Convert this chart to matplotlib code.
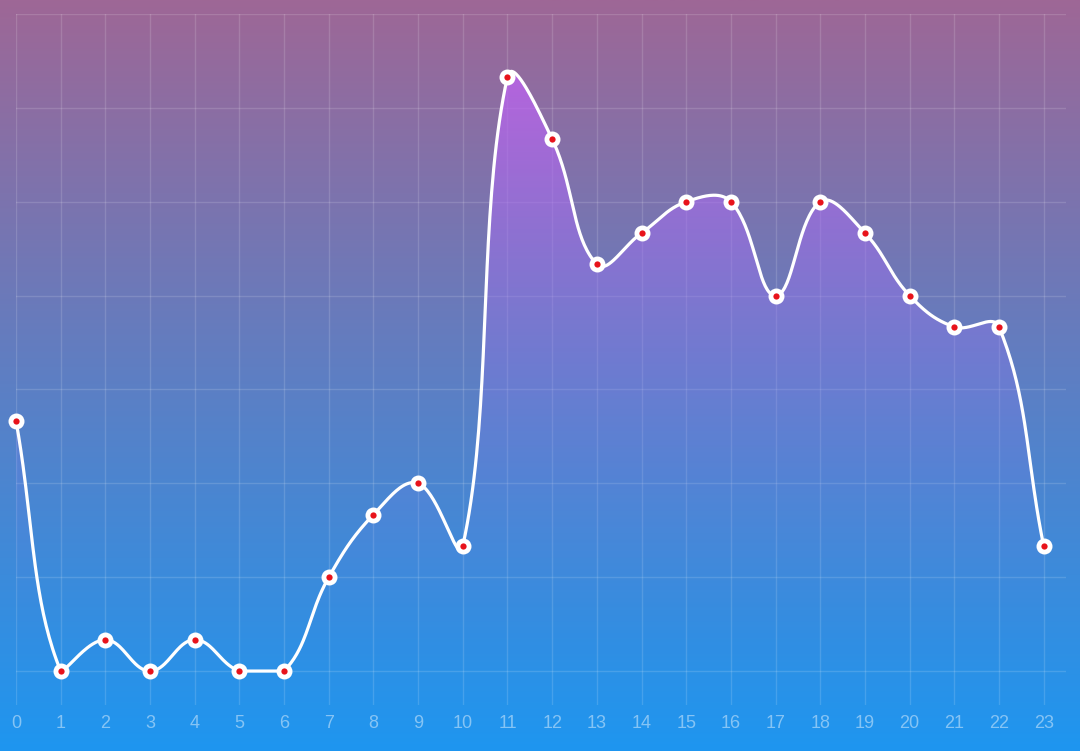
import numpy as np
import matplotlib.pyplot as plt
from matplotlib.path import Path
from matplotlib.patches import PathPatch

hours = list(range(24))
values = [8, 0, 1, 0, 1, 0, 0, 3, 5, 6, 4, 19, 17, 13, 14, 15, 15, 12, 15, 14, 12, 11, 11, 4]
y_ticks = [0, 3, 6, 9, 12, 15, 18, 21]
tension = 0.4

W, H = 1080, 751
fig = plt.figure(figsize=(W / 100, H / 100), dpi=100)

# background gradient (purple top -> blue bottom)
bg = fig.add_axes([0, 0, 1, 1], zorder=0)
top_c = np.array([158, 103, 150]) / 255
bot_c = np.array([30, 150, 240]) / 255
g = np.linspace(0, 1, 256)[:, None]
bg_img = top_c[None, :] * (1 - g) + bot_c[None, :] * g
bg.imshow(bg_img[:, None, :], aspect='auto', extent=[0, 1, 0, 1])
bg.set_axis_off()

ax = fig.add_axes([16 / W, 46 / H, 1050 / W, 691 / H], zorder=1)
ax.patch.set_alpha(0)
ax.set_xlim(0, 23.5)
ax.set_ylim(-1.085, 21)
for s in ax.spines.values():
    s.set_visible(False)

# grid
for v in y_ticks:
    ax.axhline(v, color='white', alpha=0.14, lw=1, zorder=1)
for h in hours:
    ax.axvline(h, color='white', alpha=0.14, lw=1, zorder=1)

ax.set_yticks([])
ax.set_xticks(hours)
ax.set_xticklabels([str(h) for h in hours], fontsize=13, family='Liberation Sans',
                   color=(1, 1, 1, 0.45))
ax.tick_params(axis='x', length=0, pad=7)

# chart.js style bezier spline in display coordinates, capped to chart area
pts = ax.transData.transform(np.column_stack([hours, values]))
lo = ax.transData.transform([[0, 0]])[0]
hi = ax.transData.transform([[23.5, 21]])[0]
n = len(pts)
cp_prev = np.zeros_like(pts)
cp_next = np.zeros_like(pts)
for i in range(n):
    p0 = pts[max(i - 1, 0)]
    p1 = pts[i]
    p2 = pts[min(i + 1, n - 1)]
    d01 = np.hypot(*(p1 - p0))
    d12 = np.hypot(*(p2 - p1))
    tot = d01 + d12
    s01 = d01 / tot if tot else 0
    s12 = d12 / tot if tot else 0
    cp_prev[i] = p1 - tension * s01 * (p2 - p0)
    cp_next[i] = p1 + tension * s12 * (p2 - p0)
cp_prev[:, 1] = np.clip(cp_prev[:, 1], lo[1], hi[1])
cp_next[:, 1] = np.clip(cp_next[:, 1], lo[1], hi[1])
cp_prev[:, 0] = np.clip(cp_prev[:, 0], lo[0], hi[0])
cp_next[:, 0] = np.clip(cp_next[:, 0], lo[0], hi[0])

t = np.linspace(0, 1, 40)[:, None]
curve = []
for i in range(n - 1):
    a, b, c, d = pts[i], cp_next[i], cp_prev[i + 1], pts[i + 1]
    seg = ((1 - t) ** 3) * a + 3 * ((1 - t) ** 2) * t * b + 3 * (1 - t) * t ** 2 * c + t ** 3 * d
    curve.append(seg if i == 0 else seg[1:])
curve = ax.transData.inverted().transform(np.vstack(curve))

# gradient fill under the curve
poly = np.vstack([curve, [[hours[-1], 0], [hours[0], 0]]])
patch = PathPatch(Path(poly), facecolor='none', edgecolor='none')
ax.add_patch(patch)
gy = np.linspace(1, 0, 256)[:, None]
c_top = np.array([200, 95, 238]) / 255
c_bot = np.array([90, 140, 240]) / 255
fill = np.zeros((256, 1, 4))
fill[:, 0, :3] = c_top * gy + c_bot * (1 - gy)
fill[:, 0, 3] = 0.9 * gy[:, 0] ** 1.3
im = ax.imshow(fill, aspect='auto', extent=[0, 23.5, 0, 21], zorder=2)
im.set_clip_path(patch)
ax.set_xlim(0, 23.5)
ax.set_ylim(-1.085, 21)

ax.plot(curve[:, 0], curve[:, 1], color='white', lw=2.3, zorder=3, solid_capstyle='round')
ax.plot(hours, values, 'o', ms=11.5, color='white', mec='none', zorder=4, clip_on=False)
ax.plot(hours, values, 'o', ms=4.5, color='#e8131b', mec='none', zorder=5, clip_on=False)

fig.savefig('out.png', dpi=100)
